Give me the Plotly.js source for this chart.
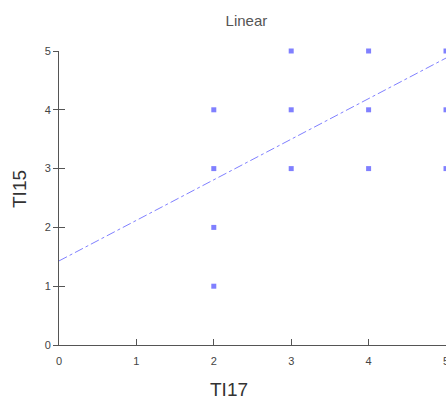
<!DOCTYPE html>
<html>
<head>
<meta charset="utf-8">
<script src="https://cdn.plot.ly/plotly-3.0.1.min.js"></script>
<style>html,body{margin:0;padding:0;background:#fff;}#chart{width:446px;height:399px;}</style>
</head>
<body>
<div id="chart"></div>
<script>
// Data
const ti17 = [2, 2, 2, 2, 3, 3, 3, 4, 4, 4, 5, 5, 5];
const ti15 = [1, 2, 3, 4, 3, 4, 5, 3, 4, 5, 3, 4, 5];
const fitX = [0, 5];
const fitY = [1.43, 4.88];
const tickVals = [0, 1, 2, 3, 4, 5];
const tickText = ['0', '1', '2', '3', '4', '5'];

const blue = 'rgb(128,128,255)';
const axisColor = '#555';
const fontFam = '"Liberation Sans", Arial, sans-serif';

const traces = [
  {
    x: ti17, y: ti15, type: 'scatter', mode: 'markers', cliponaxis: false,
    marker: {symbol: 'square', size: 5, color: blue},
    hoverinfo: 'x+y', showlegend: false
  },
  {
    x: fitX, y: fitY, type: 'scatter', mode: 'lines',
    line: {color: blue, width: 1, dash: 'dashdot'},
    showlegend: false
  },
  {
    // helper trace so the overlaid axis (inner half of the y tick marks) is drawn
    x: fitX, y: fitY, type: 'scatter', mode: 'markers', yaxis: 'y2',
    marker: {opacity: 0, size: 1}, hoverinfo: 'skip', showlegend: false
  }
];

const layout = {
  width: 446, height: 399,
  margin: {l: 59, r: 0, t: 51, b: 54, pad: 0},
  paper_bgcolor: '#fff', plot_bgcolor: '#fff',
  font: {family: fontFam, size: 11, color: '#444'},
  title: {
    text: 'Linear', font: {family: fontFam, size: 15, color: '#555'},
    x: 216 / 446, xref: 'paper', xanchor: 'center',
    y: 1 - 21 / 399, yref: 'container', yanchor: 'middle'
  },
  xaxis: {
    range: [0, 5], tickvals: tickVals, ticktext: tickText,
    showgrid: false, zeroline: false, showline: true,
    linecolor: axisColor, linewidth: 1,
    ticks: 'inside', ticklen: 6, tickcolor: axisColor, tickwidth: 1,
    ticklabelstandoff: 6, ticklabeloverflow: 'allow',
    tickfont: {family: fontFam, size: 11, color: '#444'}
  },
  yaxis: {
    range: [0, 5], tickvals: tickVals, ticktext: tickText,
    showgrid: false, zeroline: false, showline: true,
    linecolor: axisColor, linewidth: 1,
    ticks: 'outside', ticklen: 5, tickcolor: axisColor, tickwidth: 1,
    tickfont: {family: fontFam, size: 11, color: '#444'}
  },
  yaxis2: {
    range: [0, 5], tickvals: tickVals, overlaying: 'y', side: 'left', anchor: 'x',
    showgrid: false, zeroline: false, showline: false, showticklabels: false,
    ticks: 'inside', ticklen: 6, tickcolor: axisColor, tickwidth: 1
  },
  annotations: [
    {
      text: 'TI17', xref: 'paper', yref: 'paper',
      x: (229 - 59) / 387, y: -(389 - 345) / 294,
      xanchor: 'center', yanchor: 'middle', showarrow: false,
      font: {family: fontFam, size: 19, color: '#333'}
    },
    {
      text: 'TI15', xref: 'paper', yref: 'paper', textangle: -90,
      x: -(59 - 19) / 387, y: (345 - 189) / 294,
      xanchor: 'center', yanchor: 'middle', showarrow: false,
      font: {family: fontFam, size: 19, color: '#333'}
    }
  ]
};

Plotly.newPlot('chart', traces, layout, {displayModeBar: false, staticPlot: true});
</script>
</body>
</html>
